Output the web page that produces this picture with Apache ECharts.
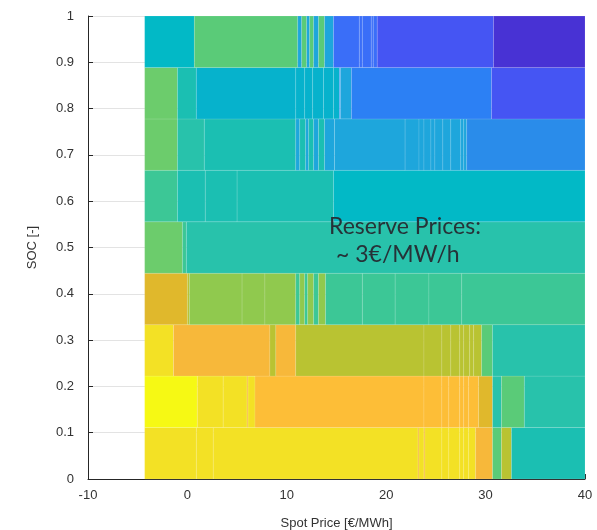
<!DOCTYPE html>
<html>
<head>
<meta charset="utf-8">
<script src="https://cdn.jsdelivr.net/npm/echarts@6/dist/echarts.min.js"></script>
<style>
html,body{margin:0;padding:0;background:#fff;}
#chart{width:597px;height:530px;}
</style>
</head>
<body>
<div id="chart"></div>
<script>
// SOC rows: 9 equal bands between 0 and 1
const socRows = 9;
const xTicks = [-10, 0, 10, 20, 30, 40];
const yTicks = [0, 0.1, 0.2, 0.3, 0.4, 0.5, 0.6, 0.7, 0.8, 0.9, 1];

// colour level scale (index -> colour), parula-like
const levelColors = ['#4832d4','#4555f3','#3a6ef8','#2c80f4','#2a8cea','#1ea6dc','#06b2cc','#02b9c6',
  '#1bbfb2','#28c2ab','#3cc796','#5acb78','#6ccc6c','#90c94e','#b9c332','#e0b82c','#f7b83a','#fdbe37',
  '#f3e125','#f6f914'];

// Spot price breakpoints and levels per SOC row (row 0 = SOC 0..1/9)
const row0Edges = [-4.3, 0.9, 2.6, 23.2, 23.3, 23.8, 23.9, 25.6, 26.3, 27.4, 27.8, 28.3, 29.0, 30.7, 31.6, 32.6, 40];
const row0Vals  = [18, 18, 18, 16, 18, 16, 18, 18, 18, 18, 18, 18, 16, 11, 14, 8];
const row1Edges = [-4.3, 1.0, 3.6, 6.0, 6.1, 6.8, 23.8, 25.6, 26.3, 27.4, 27.8, 28.3, 29.3, 30.7, 31.6, 33.9, 40];
const row1Vals  = [19, 18, 18, 16, 18, 17, 17, 17, 17, 17, 17, 17, 15, 9, 11, 9];
const row2Edges = [-4.3, -1.4, 8.3, 8.9, 10.9, 23.8, 25.6, 26.5, 27.4, 27.8, 28.4, 28.8, 29.6, 30.7, 40];
const row2Vals  = [18, 16, 14, 16, 14, 14, 14, 14, 14, 14, 14, 14, 11, 9];
const row3Edges = [-4.3, 0.0, 0.2, 5.5, 7.8, 10.9, 11.3, 11.8, 12.1, 12.7, 13.2, 13.9, 17.6, 20.9, 24.3, 27.6, 40];
const row3Vals  = [15, 14, 13, 13, 13, 10, 13, 10, 13, 10, 13, 10, 10, 10, 10, 10];
const row4Edges = [-4.3, -0.5, -0.1, 40];
const row4Vals  = [12, 10, 9];
const row5Edges = [-4.3, -1.0, 1.8, 5.0, 14.7, 40];
const row5Vals  = [10, 8, 8, 8, 7];
const row6Edges = [-4.3, -1.0, 1.7, 10.9, 11.3, 11.9, 12.2, 12.7, 13.2, 13.8, 14.8, 21.9, 23.3, 23.8, 24.5, 24.9, 25.7, 26.5, 27.5, 27.8, 28.1, 40];
const row6Vals  = [12, 9, 8, 5, 8, 5, 8, 5, 8, 5, 5, 5, 5, 5, 5, 5, 5, 5, 5, 5, 4];
const row7Edges = [-4.3, -1.0, 0.9, 10.9, 11.8, 12.6, 13.7, 14.7, 15.3, 15.4, 16.5, 30.6, 40];
const row7Vals  = [12, 8, 6, 6, 6, 6, 6, 6, 3, 5, 3, 1];
const row8Edges = [-4.3, 0.7, 11.1, 11.5, 12.0, 12.3, 12.7, 13.2, 13.8, 14.7, 17.3, 17.6, 18.5, 18.7, 19.1, 30.8, 40];
const row8Vals  = [7, 11, 5, 11, 5, 11, 5, 11, 5, 2, 2, 2, 2, 2, 1, 0];

const allEdges = [row0Edges,row1Edges,row2Edges,row3Edges,row4Edges,row5Edges,row6Edges,row7Edges,row8Edges];
const allVals  = [row0Vals,row1Vals,row2Vals,row3Vals,row4Vals,row5Vals,row6Vals,row7Vals,row8Vals];

const cells = [];
allEdges.forEach((edges, r) => {
  const vals = allVals[r];
  for (let i = 0; i < vals.length; i++) cells.push([edges[i], edges[i+1], r, vals[i]]);
});

const chart = echarts.init(document.getElementById('chart'), null, {renderer:'canvas'});
const axisFont = {color:'#333', fontSize:13, fontFamily:'Liberation Sans, Arial, sans-serif'};
chart.setOption({
  animation:false,
  grid:{left:88, right:12, top:16, bottom:51, containLabel:false, outerBoundsMode:'none'},
  visualMap:{show:false, type:'continuous', min:0, max:levelColors.length-1, dimension:3, seriesIndex:0,
    inRange:{color:levelColors}},
  xAxis:{type:'value', min:xTicks[0], max:xTicks[xTicks.length-1], interval:10,
    name:'Spot Price [€/MWh]', nameLocation:'middle', nameGap:38,
    nameTextStyle:axisFont,
    axisLine:{show:true, onZero:false, lineStyle:{color:'#262626', width:1}},
    axisTick:{show:true, inside:true, length:5, lineStyle:{color:'#262626'}},
    axisLabel:Object.assign({margin:10}, axisFont),
    splitLine:{show:false}},
  yAxis:{type:'value', min:0, max:1, interval:0.1,
    name:'SOC [-]', nameLocation:'middle', nameGap:49,
    nameTextStyle:axisFont,
    axisLine:{show:true, onZero:false, lineStyle:{color:'#262626', width:1}},
    axisTick:{show:true, inside:true, length:5, lineStyle:{color:'#262626'}},
    axisLabel:Object.assign({margin:14, formatter:v => String(+v.toFixed(1))}, axisFont),
    splitLine:{show:true, lineStyle:{color:'#e3e3e3', width:1}}},
  series:[{
    type:'custom',
    encode:{x:[0,1], y:2},
    data:cells,
    renderItem:function(params, api){
      const x0 = api.value(0), x1 = api.value(1), r = api.value(2);
      const pTop = api.coord([x0, (r+1)/socRows]);
      const pBot = api.coord([x1, r/socRows]);
      return {type:'rect',
        shape:{x:pTop[0], y:pTop[1], width:pBot[0]-pTop[0], height:pBot[1]-pTop[1]},
        style:{fill:api.visual('color'), stroke:'rgba(255,255,255,0.15)', lineWidth:0.8}};
    }
  }],
  graphic:[
    {type:'text', left:329, top:215, z:100,
      style:{text:'Reserve Prices:', fill:'#263238', font:'400 23px Lato, "Open Sans", sans-serif'}},
    {type:'text', left:336, top:243, z:100,
      style:{text:'~ 3€/MW/h', fill:'#263238', font:'400 23px Lato, "Open Sans", sans-serif'}}
  ]
});
</script>
</body>
</html>
